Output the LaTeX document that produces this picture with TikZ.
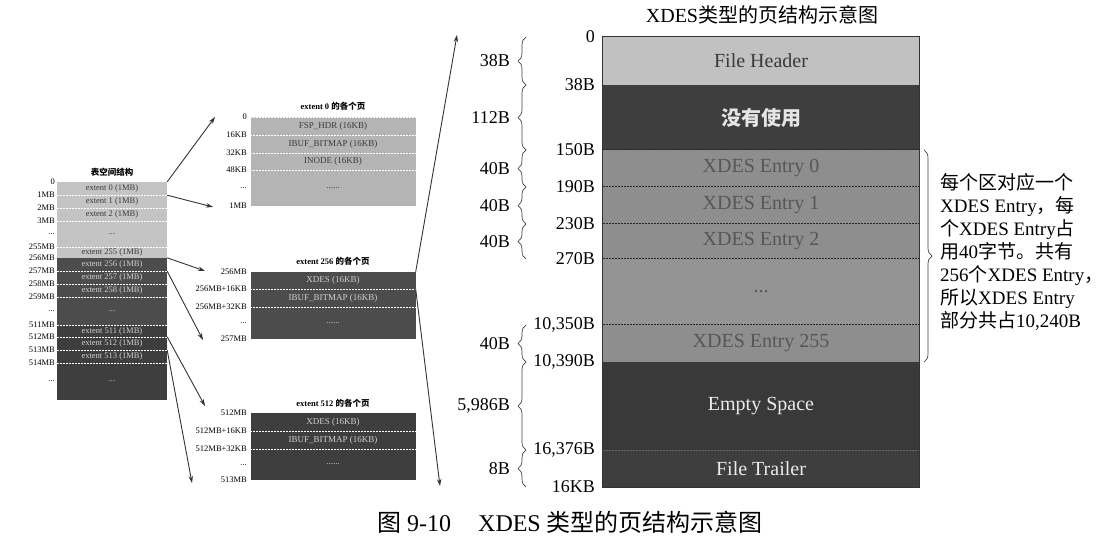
\documentclass[tikz,border=0pt]{standalone}
\usepackage{fontspec}
\setmainfont{Liberation Serif}
\newfontfamily\cjk{Noto Sans CJK SC}
\usetikzlibrary{arrows.meta,decorations.pathreplacing}

\definecolor{lightrow}{HTML}{C4C4C4}
\definecolor{midrow}{HTML}{8E8E8E}
\definecolor{darkrow}{HTML}{3E3E3E}
\definecolor{greyrow}{HTML}{4C4C4C}
\definecolor{darktext}{HTML}{3A3A3A}
\definecolor{paletext}{HTML}{D0D0D0}

\newcommand{\shortdots}{...}
\newcommand{\longdots}{......}

\begin{document}
\begin{tikzpicture}[x=1pt, y=-1pt,
  lrow/.style={minimum width=110pt, inner sep=0pt, font=\fontsize{8.5}{9}\selectfont},
  mrow/.style={minimum width=165pt, inner sep=0pt, font=\fontsize{9}{10}\selectfont},
  sect/.style={minimum width=316pt, inner sep=0pt, font=\fontsize{20}{24}\selectfont},
  llab/.style={anchor=east, inner sep=0pt, font=\fontsize{8.5}{9}\selectfont},
  offs/.style={anchor=east, inner sep=0pt, font=\fontsize{18}{20}\selectfont},
  heading/.style={inner sep=0pt, font=\fontsize{8.5}{9}\selectfont\bfseries},
  sepw/.style={white, line width=0.6pt, dash pattern=on 2pt off 1pt},
  sepd/.style={black!85, line width=0.8pt, dash pattern=on 2pt off 1pt},
  arr/.style={-{Stealth[length=7pt,width=4.5pt]}, black!80, line width=0.9pt},
  brc/.style={decorate, decoration={brace, amplitude=8pt}, black!75, line width=0.7pt},
]
  \useasboundingbox (0,0) rectangle (1118,552);

  % Table space on the left
  \node[heading] (lhead) at (112,172) {\cjk 表空间结构};
  \foreach \nm/\ya/\yb/\fc/\tc/\txt in {
      l0/182/195/lightrow/darktext/extent 0 (1MB),
      l1/195/208/lightrow/darktext/extent 1 (1MB),
      l2/208/221/lightrow/darktext/extent 2 (1MB),
      l3/221/247/lightrow/darktext/\shortdots,
      l255/247/258/lightrow/darktext/extent 255 (1MB),
      l256/258/271/greyrow/paletext/extent 256 (1MB),
      l257/271/284/greyrow/paletext/extent 257 (1MB),
      l258/284/297/greyrow/paletext/extent 258 (1MB),
      l259/297/325/greyrow/paletext/\shortdots,
      l511/325/337/darkrow/paletext/extent 511 (1MB),
      l512/337/350/darkrow/paletext/extent 512 (1MB),
      l513/350/363/darkrow/paletext/extent 513 (1MB),
      l514/363/400/darkrow/paletext/\shortdots}
    \node[lrow, fill=\fc, text=\tc, minimum height={\yb-\ya}] (\nm) at (112,{(\ya+\yb)/2}) {\txt};
  \foreach \nm in {l1,l2,l3,l255,l257,l258,l259,l511,l512,l513,l514}
    \draw[sepw] (\nm.north west) -- (\nm.north east);
  \foreach \y/\t in {182/0, 195/1MB, 208/2MB, 221/3MB, 234/\shortdots, 247/255MB, 258/256MB,
      271/257MB, 284/258MB, 297/259MB, 311/\shortdots, 325/511MB, 337/512MB, 350/513MB,
      363/514MB, 381/\shortdots}
    \node[llab] (ll\y) at (55,\y) {\t};

  % Pages of extent 0
  \node[heading] (ahead) at (333,106) {extent 0 {\cjk 的各个页}};
  \foreach \nm/\ya/\yb/\txt in {a0/117/135/FSP\_HDR (16KB), a1/135/153/IBUF\_BITMAP (16KB),
      a2/153/170/INODE (16KB), a3/170/206/\longdots}
    \node[mrow, fill=lightrow!92!black, text=darktext, minimum height={\yb-\ya}] (\nm) at (333,{(\ya+\yb)/2}) {\txt};
  \foreach \nm in {a0,a1,a2,a3}
    \draw[sepw] (\nm.north west) -- (\nm.north east);
  \draw[sepw] (a3.south west) -- (a3.south east);
  \foreach \y/\t in {117/0, 135/16KB, 153/32KB, 170/48KB, 188/\shortdots, 206/1MB}
    \node[llab] (al\y) at (247,\y) {\t};

  % Pages of extent 256
  \node[heading] (bhead) at (333,261) {extent 256 {\cjk 的各个页}};
  \foreach \nm/\ya/\yb/\txt in {b0/272/289/XDES (16KB), b1/289/307/IBUF\_BITMAP (16KB),
      b2/307/339/\longdots}
    \node[mrow, fill=greyrow, text=paletext, minimum height={\yb-\ya}] (\nm) at (333,{(\ya+\yb)/2}) {\txt};
  \foreach \nm in {b1,b2}
    \draw[sepw] (\nm.north west) -- (\nm.north east);
  \foreach \y/\t in {272/256MB, 289/256MB+16KB, 307/256MB+32KB, 323/\shortdots, 339/257MB}
    \node[llab] (bl\y) at (247,\y) {\t};

  % Pages of extent 512
  \node[heading] (chead) at (333,403) {extent 512 {\cjk 的各个页}};
  \foreach \nm/\ya/\yb/\txt in {c0/413/431/XDES (16KB), c1/431/449/IBUF\_BITMAP (16KB),
      c2/449/480/\longdots}
    \node[mrow, fill=darkrow, text=paletext, minimum height={\yb-\ya}] (\nm) at (333,{(\ya+\yb)/2}) {\txt};
  \foreach \nm in {c1,c2}
    \draw[sepw] (\nm.north west) -- (\nm.north east);
  \foreach \y/\t in {413/512MB, 431/512MB+16KB, 449/512MB+32KB, 465/\shortdots, 480/513MB}
    \node[llab] (cl\y) at (247,\y) {\t};

  % Arrows from the table space to the extents
  \coordinate (ta) at (215,117);
  \coordinate (tb) at (213,207);
  \coordinate (tc) at (205,271);
  \coordinate (td) at (203,340);
  \coordinate (te) at (205,406);
  \coordinate (tf) at (192,483);
  \draw[arr] (l0.north east) -- (ta);
  \draw[arr] (l0.south east) -- (tb);
  \draw[arr] (l256.north east) -- (tc);
  \draw[arr] (l256.south east) -- (td);
  \draw[arr] (l512.north east) -- (te);
  \draw[arr] (l512.south east) -- (tf);

  % XDES page
  \node[font=\fontsize{20}{24}\selectfont, inner sep=0pt] (title) at (762,15) {XDES{\cjk 类型的页结构示意图}};
  \node[sect, fill=lightrow!105, text=darktext, minimum height=48pt] (hdr) at (761,61) {File Header};
  \node[sect, fill=darkrow, text=white!90!black, minimum height=65pt] (unused) at (761,117.5) {\cjk\bfseries 没有使用};
  \node[sect, fill=midrow, text=darktext!85, minimum height=37pt] (e0) at (761,168.5) {XDES Entry 0};
  \node[sect, fill=midrow, text=darktext!85, minimum height=37pt] (e1) at (761,205.5) {XDES Entry 1};
  \node[sect, fill=midrow, text=darktext!85, minimum height=35pt] (e2) at (761,241.5) {XDES Entry 2};
  \node[sect, fill=midrow!95!white, text=darktext!85, minimum height=66pt] (edots) at (761,292) {\shortdots};
  \node[sect, fill=midrow, text=darktext!85, minimum height=37pt] (e255) at (761,343.5) {XDES Entry 255};
  \node[sect, fill=darkrow!92!black, text=white!92!black, minimum height=88pt] (empty) at (761,406) {Empty Space};
  \node[sect, fill=darkrow, text=white!92!black, minimum height=37pt] (trl) at (761,468.5) {File Trailer};
  \foreach \nm in {e0,e1,e2,edots,e255}
    \draw[sepd] (\nm.north west) -- (\nm.north east);
  \draw[black!60, line width=0.6pt, dash pattern=on 2pt off 1pt] (trl.north west) -- (trl.north east);
  \draw[black!80, line width=0.8pt] (hdr.north west) rectangle (trl.south east);

  % Long arrows from the XDES page of extent 256
  \coordinate (up) at (457,35);
  \coordinate (down) at (440,486);
  \draw[arr] (b0.north east) -- (up);
  \draw[arr] (b0.south east) -- (down);

  % Offsets
  \foreach \y/\t in {37/0, 85/38B, 150/150B, 187/190B, 224/230B, 259/270B,
      325/{10,350B}, 362/{10,390B}, 450/{16,376B}, 487/16KB}
    \node[offs] (off\y) at (595,\y) {\t};

  % Sizes
  \foreach \a/\b/\t in {37/85/38B, 85/150/112B, 150/187/40B, 187/224/40B, 224/259/40B,
      325/362/40B, 362/450/{5,986B}, 450/487/8B} {
    \draw[brc] (526,\b) -- (526,\a);
    \node[offs] (size\a) at (510,{(\a+\b)/2}) {\t};
  }

  % Note on the entries
  \draw[brc] (924,150) -- (924,362);
  \node[anchor=west, inner sep=0pt, align=left, font=\fontsize{19}{23}\selectfont] (note) at (940,252)
    {{\cjk 每个区对应一个}\\
     XDES Entry{\cjk ，每}\\
     {\cjk 个}XDES Entry{\cjk 占}\\
     {\cjk 用}40{\cjk 字节。共有}\\
     256{\cjk 个}XDES Entry{\cjk ，}\\
     {\cjk 所以}XDES Entry\\
     {\cjk 部分共占}10,240B};

  % Caption
  \node[anchor=west, inner sep=0pt, font=\fontsize{24}{28}\selectfont] (cap) at (377,522)
    {{\cjk 图} 9-10\hspace{27pt}XDES {\cjk 类型的页结构示意图}};
\end{tikzpicture}
\end{document}
